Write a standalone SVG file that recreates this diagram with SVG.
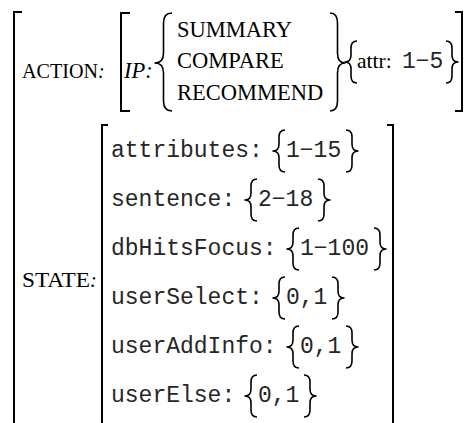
<svg xmlns="http://www.w3.org/2000/svg" width="469" height="423" viewBox="0 0 469 423">
<style>
.br{fill:none;stroke:#000;stroke-width:2;stroke-linecap:butt}
.bc{fill:none;stroke:#000;stroke-width:1.6;stroke-linejoin:round}
.rm{font-family:"Liberation Serif","Times New Roman",serif;fill:#000}
.cap{font-size:22.5px}
.it{font-style:italic}
.tt{font-family:"Liberation Mono","Courier New",monospace;font-size:23px;fill:#262626}
</style>
<defs>
<path id="lb" class="bc" d="M12,-27 Q6,-27 6,-20 L6,-13 Q6,-6 0,-6 Q6,-6 6,1 L6,8 Q6,15 12,15"/>
<path id="rb" class="bc" d="M0,-27 Q6,-27 6,-20 L6,-13 Q6,-6 12,-6 Q6,-6 6,1 L6,8 Q6,15 0,15"/>
</defs>
<g id="brackets">
<path class="br" d="M22,12 H14 V423"/>
<path class="br" d="M455,12 H462 V111 H455"/>
<path class="br" d="M130,13 H121 V111 H130"/>
<path class="br" d="M108,125 H102 V423"/>
<path class="br" d="M387,125 H393 V423"/>
</g>
<g id="action">
<text class="rm" x="22" y="78" font-size="20"><tspan textLength="76" lengthAdjust="spacingAndGlyphs">ACTION</tspan><tspan class="it">:</tspan></text>
<text class="rm it cap" x="124" y="78">IP:</text>
<path class="bc" stroke-width="1.8" d="M172,13 Q163.5,13 163.5,23 L163.5,53 Q163.5,63 155,63 Q163.5,63 163.5,73 L163.5,101 Q163.5,111 172,111"/>
<text class="rm cap" x="177" y="37">SUMMARY</text>
<text class="rm cap" x="177" y="68">COMPARE</text>
<text class="rm cap" x="177" y="100">RECOMMEND</text>
<path class="bc" stroke-width="1.8" d="M330,13 Q337.5,13 337.5,23 L337.5,53 Q337.5,63 345,63 Q337.5,63 337.5,73 L337.5,101 Q337.5,111 330,111"/>
<use href="#lb" x="345" y="68"/>
<text class="rm" x="357" y="68" font-size="21.5">attr:</text>
<text class="tt" x="402" y="68">1−5</text>
<use href="#rb" x="446" y="68"/>
</g>
<g id="state">
<text class="rm" x="22" y="287" font-size="20.5"><tspan textLength="68" lengthAdjust="spacingAndGlyphs">STATE</tspan><tspan class="it">:</tspan></text>
<text class="tt" x="111" y="157">attributes:</text>
<use href="#lb" x="273" y="157"/>
<text class="tt" x="286" y="157">1−15</text>
<use href="#rb" x="346" y="157"/>
<text class="tt" x="111" y="206">sentence:</text>
<use href="#lb" x="245" y="206"/>
<text class="tt" x="258" y="206">2−18</text>
<use href="#rb" x="318" y="206"/>
<text class="tt" x="111" y="255">dbHitsFocus:</text>
<use href="#lb" x="287" y="255"/>
<text class="tt" x="300" y="255">1−100</text>
<use href="#rb" x="374" y="255"/>
<text class="tt" x="111" y="304">userSelect:</text>
<use href="#lb" x="273" y="304"/>
<text class="tt" x="286" y="304">0,1</text>
<use href="#rb" x="332" y="304"/>
<text class="tt" x="111" y="353">userAddInfo:</text>
<use href="#lb" x="287" y="353"/>
<text class="tt" x="300" y="353">0,1</text>
<use href="#rb" x="346" y="353"/>
<text class="tt" x="111" y="402">userElse:</text>
<use href="#lb" x="245" y="402"/>
<text class="tt" x="258" y="402">0,1</text>
<use href="#rb" x="304" y="402"/>
</g>
</svg>
